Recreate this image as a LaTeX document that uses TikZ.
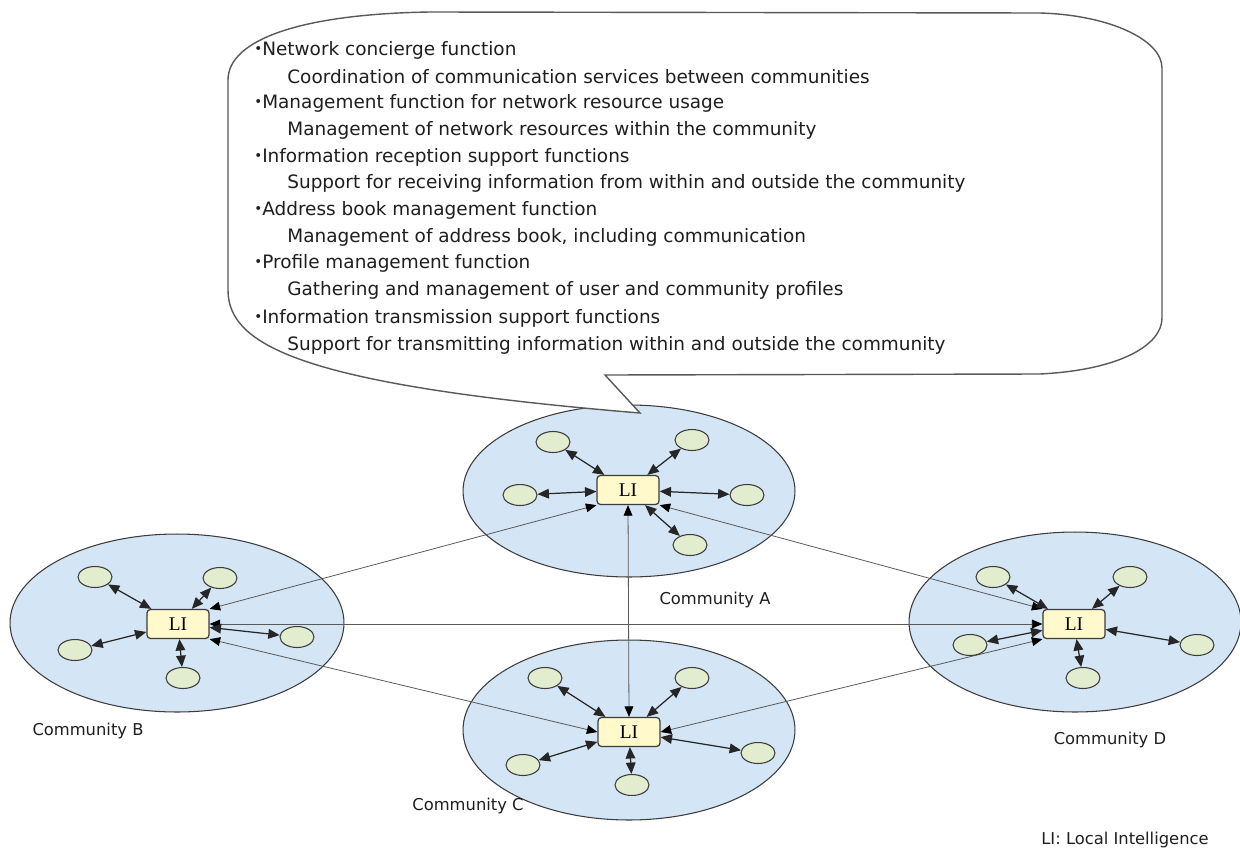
\documentclass[tikz,border=0pt]{standalone}
\usepackage{fontspec}
\setmainfont{DejaVu Sans}
\newfontfamily\jpfont{Noto Sans CJK JP}
\newfontfamily\lifont{Liberation Serif}
\usetikzlibrary{arrows.meta,shapes.geometric}
\definecolor{commfill}{RGB}{212,229,245}
\definecolor{devfill}{RGB}{226,237,208}
\definecolor{lifill}{RGB}{255,249,204}
\definecolor{edgecol}{RGB}{60,60,60}
\definecolor{txtcol}{RGB}{30,30,30}
\tikzset{
  comm/.style={ellipse, draw=edgecol, fill=commfill, line width=0.6pt, inner sep=0pt},
  dev/.style={ellipse, draw=edgecol, fill=devfill, line width=0.6pt, minimum width=0.68cm, minimum height=0.42cm, inner sep=0pt},
  libox/.style={rectangle, rounded corners=2pt, draw=edgecol, fill=lifill, line width=0.7pt, minimum width=1.24cm, minimum height=0.58cm, inner sep=0pt, font=\lifont\fontsize{11}{11}\selectfont},
  lbl/.style={inner sep=0pt, text=txtcol, font=\fontsize{9.3}{11}\selectfont},
  ctext/.style={anchor=west, inner sep=0pt, text=txtcol, font=\fontsize{10.5}{12}\selectfont},
  biarr/.style={{Triangle[length=6.5pt,width=5.5pt]}-{Triangle[length=6.5pt,width=5.5pt]}, draw=black!85, line width=0.7pt},
  link/.style={{Triangle[length=6pt,width=5pt,fill=black,color=black]}-{Triangle[length=6pt,width=5pt,fill=black,color=black]}, draw=black!65, line width=0.45pt},
  callout/.style={draw=black!65, fill=white, line width=0.8pt},
}
\newcommand{\bul}{{\jpfont ・}\kern-0.3em}
\begin{document}
\begin{tikzpicture}[x=0.02cm,y=-0.02cm]
\useasboundingbox (0,0) rectangle (1240,852);

% communities
\node[comm, minimum width=6.64cm, minimum height=3.44cm] (cA) at (629,491) {};
\node[comm, minimum width=6.68cm, minimum height=3.56cm] (cB) at (177,623) {};
\node[comm, minimum width=6.64cm, minimum height=3.60cm] (cC) at (629,730) {};
\node[comm, minimum width=6.64cm, minimum height=3.60cm] (cD) at (1075,622) {};

% local intelligence boxes
\node[libox] (liA) at (628,490) {LI};
\node[libox] (liB) at (178,624) {LI};
\node[libox] (liC) at (629,732) {LI};
\node[libox] (liD) at (1074,624) {LI};

% links between communities
\draw[link] (liB.north east) -- (liA.south west);
\draw[link] (liA.south east) -- (liD.north west);
\draw[link] (liB.east) -- (liD.west);
\draw[link] (liB.south east) -- (liC.west);
\draw[link] (liC.east) -- (liD.south west);
\draw[link] (liA.south) -- (liC.north);

% devices
\node[dev] (a1) at (553,442) {};
\node[dev] (a2) at (692,440) {};
\node[dev] (a3) at (520,495) {};
\node[dev] (a4) at (747,495) {};
\node[dev] (a5) at (690,545) {};

\node[dev] (b1) at (95,577) {};
\node[dev] (b2) at (220,578) {};
\node[dev] (b3) at (75,650) {};
\node[dev] (b4) at (297,637) {};
\node[dev] (b5) at (183,678) {};

\node[dev] (c1) at (545,678) {};
\node[dev] (c2) at (692,678) {};
\node[dev] (c3) at (523,765) {};
\node[dev] (c4) at (758,753) {};
\node[dev] (c5) at (632,785) {};

\node[dev] (d1) at (993,577) {};
\node[dev] (d2) at (1130,577) {};
\node[dev] (d3) at (970,645) {};
\node[dev] (d4) at (1197,645) {};
\node[dev] (d5) at (1083,678) {};

\foreach \n in {a1,a2,a3,a4,a5} \draw[biarr] (\n) -- (liA);
\foreach \n in {b1,b2,b3,b4,b5} \draw[biarr] (\n) -- (liB);
\foreach \n in {c1,c2,c3,c4,c5} \draw[biarr] (\n) -- (liC);
\foreach \n in {d1,d2,d3,d4,d5} \draw[biarr] (\n) -- (liD);

% labels
\node[lbl] (labA) at (715,600) {Community A};
\node[lbl] (labB) at (88,731) {Community B};
\node[lbl] (labC) at (468,806) {Community C};
\node[lbl] (labD) at (1110,740) {Community D};
\node[lbl] (labLI) at (1125,840) {LI: Local Intelligence};

% callout
\draw[callout] (605,375) -- (640,413)
  .. controls (300,385) and (228,345) .. (228,290)
  -- (228,80)
  .. controls (228,40) and (300,14) .. (430,12)
  -- (1040,13)
  .. controls (1110,15) and (1162,40) .. (1162,68)
  -- (1162,318)
  .. controls (1162,345) and (1120,370) .. (1040,374)
  -- cycle;

\node[ctext] (t1)  at (249,50)  {\bul Network concierge function};
\node[ctext] (t2)  at (287,77)  {Coordination of communication services between communities};
\node[ctext] (t3)  at (249,103) {\bul Management function for network resource usage};
\node[ctext] (t4)  at (287,130) {Management of network resources within the community};
\node[ctext] (t5)  at (249,157) {\bul Information reception support functions};
\node[ctext] (t6)  at (287,183) {Support for receiving information from within and outside the community};
\node[ctext] (t7)  at (249,210) {\bul Address book management function};
\node[ctext] (t8)  at (287,237) {Management of address book, including communication};
\node[ctext] (t9)  at (249,263) {\bul Profile management function};
\node[ctext] (t10) at (287,290) {Gathering and management of user and community profiles};
\node[ctext] (t11) at (249,318) {\bul Information transmission support functions};
\node[ctext] (t12) at (287,345) {Support for transmitting information within and outside the community};
\end{tikzpicture}
\end{document}
